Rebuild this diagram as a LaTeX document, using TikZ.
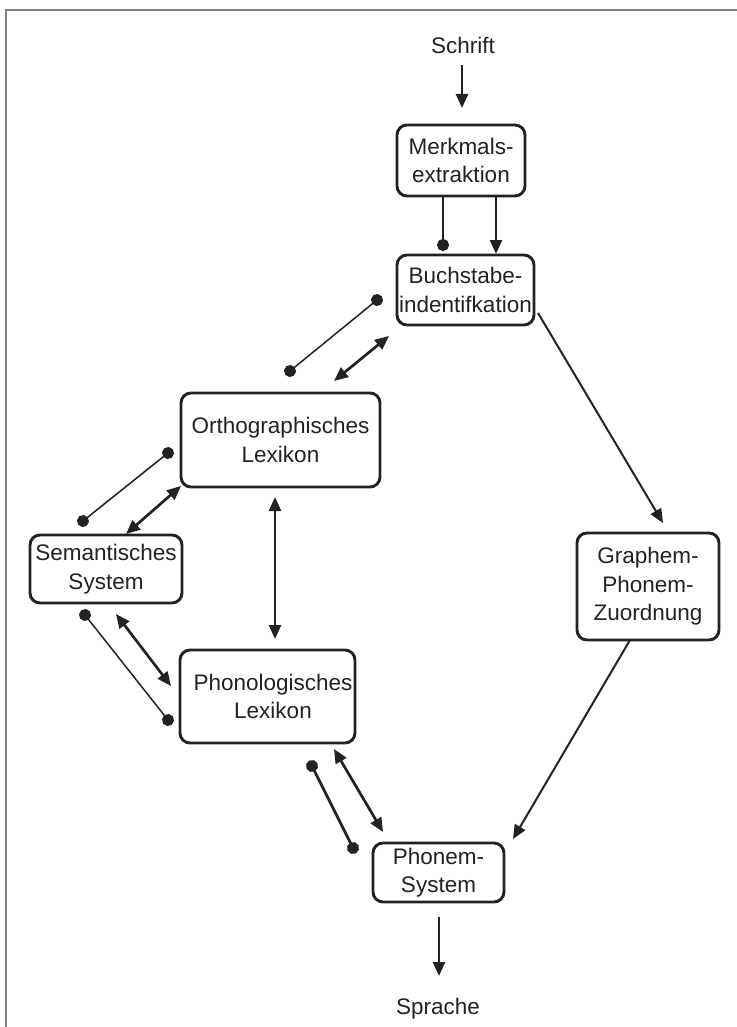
\documentclass[tikz,border=0pt]{standalone}
\usepackage{fontspec}
\setmainfont{Liberation Sans}
\usetikzlibrary{arrows.meta}
\definecolor{ink}{HTML}{222222}
\definecolor{framec}{HTML}{808080}
\begin{document}
\begin{tikzpicture}[x=1pt,y=-1pt,
  every node/.style={font=\fontsize{22.5}{28.5}\selectfont, text=ink, align=center, inner sep=0pt},
  box/.style={draw=ink, line width=2.9pt, rounded corners=10pt},
  thk/.style={draw=ink, line width=2.7pt},
  thn/.style={draw=ink, line width=1.5pt},
  tri/.tip={Triangle[length=14pt,width=12pt]},
  dot/.tip={Circle[length=12pt]},
  toarr/.style={-tri},
  dblarr/.style={tri-tri},
  dotdot/.style={dot-dot, shorten <=-6pt, shorten >=-6pt},
  todot/.style={-dot, shorten >=-6pt}
]
\useasboundingbox (0,0) rectangle (736,1027);
% frame
\draw[framec, line width=1.8pt] (6,1030) -- (6,10) -- (740,10);

% nodes
\node (schrift) at (463,45) {Schrift};
\node[box, minimum width=128pt, minimum height=71pt] (merk) at (461,160.5) {Merkmals-\\extraktion};
\node[box, minimum width=137pt, minimum height=70pt] (buch) at (465.5,290) {Buchstabe-\\indentifkation};
\node[box, minimum width=199pt, minimum height=94pt] (ortho) at (280.5,440) {Orthographisches\\Lexikon};
\node[box, minimum width=152pt, minimum height=68pt] (sem) at (106,569) {Semantisches\\System};
\node[box, minimum width=175pt, minimum height=93pt] (phono) at (267.5,696.5) {};
\node at (273,696.5) {Phonologisches\\Lexikon};
\node[box, minimum width=131pt, minimum height=59pt] (phonem) at (438.5,872.5) {Phonem-\\System};
\node[box, minimum width=142pt, minimum height=107pt] (graph) at (648,586.5) {Graphem-\\Phonem-\\Zuordnung};
\node (sprache) at (438,1009) {Sprache};

% connector end points
\coordinate (s1) at (462,65);  \coordinate (s2) at (462,108);
\coordinate (m1) at (443,196); \coordinate (m2) at (443,245);
\coordinate (m3) at (496,196); \coordinate (m4) at (496,254);
\coordinate (b1) at (377,300); \coordinate (b2) at (290,371);
\coordinate (b3) at (389,336); \coordinate (b4) at (334,381);
\coordinate (o1) at (168,453); \coordinate (o2) at (83,521);
\coordinate (o3) at (181,486); \coordinate (o4) at (126,534);
\coordinate (o5) at (275,497); \coordinate (o6) at (275,639);
\coordinate (e1) at (85,615);  \coordinate (e2) at (168,720);
\coordinate (e3) at (116,614); \coordinate (e4) at (171,686);
\coordinate (p1) at (312,766); \coordinate (p2) at (353,848);
\coordinate (p3) at (334,749); \coordinate (p4) at (383,832);
\coordinate (g1) at (538,313); \coordinate (g2) at (663,523);
\coordinate (g3) at (630,640); \coordinate (g4) at (513,839);
\coordinate (n1) at (439,917); \coordinate (n2) at (439,976);

% connectors
\draw[thk, toarr] (s1) -- (s2);
\draw[thk, todot] (m1) -- (m2);
\draw[thk, toarr] (m3) -- (m4);
\draw[thn, dotdot] (b1) -- (b2);
\draw[thk, dblarr] (b3) -- (b4);
\draw[thn, dotdot] (o1) -- (o2);
\draw[thk, dblarr] (o3) -- (o4);
\draw[thk, dblarr] (o5) -- (o6);
\draw[thn, dotdot] (e1) -- (e2);
\draw[thk, dblarr] (e3) -- (e4);
\draw[thk, dotdot] (p1) -- (p2);
\draw[thk, dblarr] (p3) -- (p4);
\draw[thn, line width=2pt, toarr] (g1) -- (g2);
\draw[thn, line width=2pt, toarr] (g3) -- (g4);
\draw[thk, toarr] (n1) -- (n2);
\end{tikzpicture}
\end{document}
